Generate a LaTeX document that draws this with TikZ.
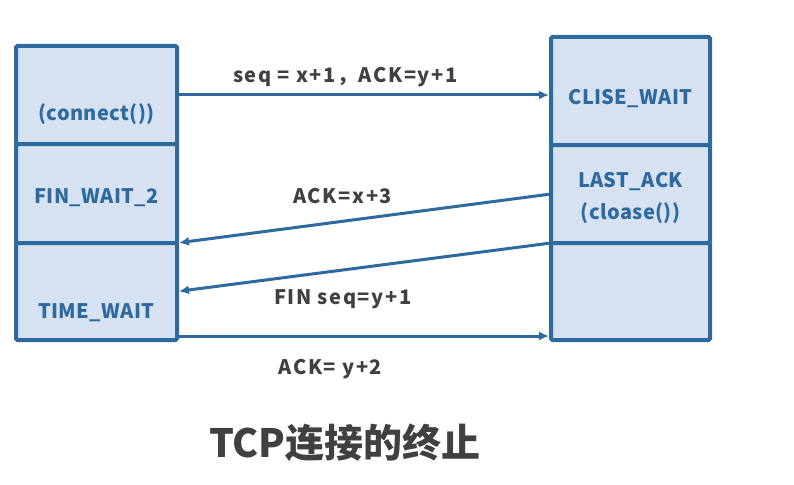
\documentclass[tikz,border=0pt]{standalone}
\usepackage{fontspec}
\setmainfont{Noto Sans CJK SC}
\usetikzlibrary{arrows.meta,positioning,calc}
\definecolor{boxline}{HTML}{2E6A9E}
\definecolor{boxfill}{HTML}{D6E1F1}
\definecolor{msgtext}{HTML}{404040}
\tikzset{
  cell/.style={draw=boxline,fill=boxfill,line width=4pt,rounded corners=1.5pt,
    minimum width=161pt,outer sep=0pt,inner sep=0pt},
  state/.style={text=boxline,align=center,
    font=\fontsize{20}{24}\selectfont\bfseries\addfontfeatures{LetterSpace=2}},
  msg/.style={text=msgtext,inner sep=0pt,
    font=\fontsize{20}{24}\selectfont\bfseries\addfontfeatures{LetterSpace=8}},
  arrow/.style={-{Latex[length=10pt,width=9pt]},draw=boxline,line width=3pt,shorten >=2pt}
}
\begin{document}
\begin{tikzpicture}[x=1pt,y=-1pt]
  \useasboundingbox (0,0) rectangle (794,484);
  % client side
  \node[cell,minimum height=98pt] (cl1) at (96.5,95) {};
  \node[cell,minimum height=99pt,below=0pt of cl1] (cl2) {};
  \node[cell,minimum height=97pt,below=0pt of cl2] (cl3) {};
  % server side
  \node[cell,minimum width=159pt,minimum height=108pt] (sv1) at (630.5,91) {};
  \node[cell,minimum width=159pt,minimum height=98pt,below=0pt of sv1] (sv2) {};
  \node[cell,minimum width=159pt,minimum height=97pt,below=0pt of sv2] (sv3) {};
  % states
  \node[state] (cl1t) at ([yshift=-19pt]cl1.center) {(connect())};
  \node[state] (cl2t) at ([yshift=-4pt]cl2.center) {FIN\_WAIT\_2};
  \node[state] (cl3t) at ([yshift=-21pt]cl3.center) {TIME\_WAIT};
  \node[state] (sv1t) at ([yshift=-8pt]sv1.center) {CLISE\_WAIT};
  \node[state] (sv2t) at ([yshift=-4pt]sv2.center) {LAST\_ACK\\[8pt](cloase())};
  % messages
  \coordinate (ackout) at ([yshift=4pt]cl3.south east);
  \draw[arrow] (cl1.east) -- (cl1.east -| sv1.west)
    node[msg,pos=0.45,above=7pt] {seq = x+1，ACK=y+1};
  \draw[arrow] (sv2.west) -- (cl2.south east)
    node[msg,pos=0.557,above=16pt] {ACK=x+3};
  \draw[arrow] (sv3.north west) -- (cl3.east)
    node[msg,pos=0.557,below=18pt] {FIN seq=y+1};
  \draw[arrow] (ackout) -- (ackout -| sv3.west)
    node[msg,pos=0.41,below=22pt] {ACK= y+2};
  \node[text=msgtext,font=\fontsize{39}{44}\selectfont\bfseries] (title) at (345,443) {TCP连接的终止};
\end{tikzpicture}
\end{document}
